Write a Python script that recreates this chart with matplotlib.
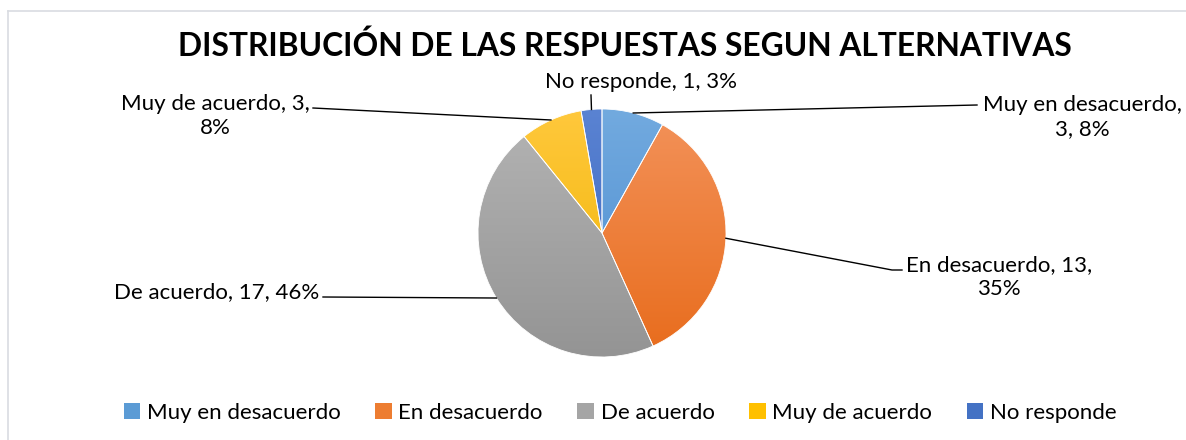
import numpy as np
import matplotlib
matplotlib.use("Agg")
import matplotlib.pyplot as plt
from matplotlib.colors import LinearSegmentedColormap
from matplotlib.patches import Patch

# %%
# Data
categories = ["Muy en desacuerdo", "En desacuerdo", "De acuerdo", "Muy de acuerdo", "No responde"]
counts = [3, 13, 17, 3, 1]
percents = [8, 35, 46, 8, 3]
title = "DISTRIBUCIÓN DE LAS RESPUESTAS SEGUN ALTERNATIVAS"

# colours: base, gradient top, gradient bottom
base_colors = ["#5B9BD5", "#ED7D31", "#A5A5A5", "#FFC000", "#4472C4"]
top_colors = ["#72AADF", "#F3925A", "#B4B4B4", "#FFC83C", "#5A83D2"]
bot_colors = ["#4A8BCF", "#E86C1C", "#949494", "#EFB300", "#3763BF"]

FONT = ["Lato", "DejaVu Sans"]
W, H = 1186, 440

fig = plt.figure(figsize=(W / 100, H / 100), dpi=100)
ax = fig.add_axes([0, 0, 1, 1])

# %%
# Pie with vertical gradient fill
cx, cy, r = 602, H - 233, 124
wedges, _ = ax.pie(counts, colors=base_colors, startangle=90, counterclock=False,
                   center=(cx, cy), radius=r,
                   wedgeprops=dict(edgecolor="white", linewidth=0.6))
grad = np.linspace(0, 1, 256).reshape(-1, 1)
for w, top, bot in zip(wedges, top_colors, bot_colors):
    cmap = LinearSegmentedColormap.from_list("g", [bot, top])
    im = ax.imshow(grad, cmap=cmap, extent=[cx - r, cx + r, cy - r, cy + r],
                   origin="lower", aspect="auto", zorder=1)
    im.set_clip_path(w)
    w.set_facecolor("none")
    w.set_zorder(2)

# %%
# Data labels with leader lines (label box centre, elbow points)
label_texts = [f"{c}, {n}, {p}%" for c, n, p in zip(categories, counts, percents)]
label_texts[0] = f"{categories[0]},\n{counts[0]}, {percents[0]}%"
label_texts[1] = f"{categories[1]}, {counts[1]},\n{percents[1]}%"
label_texts[3] = f"{categories[3]}, {counts[3]},\n{percents[3]}%"

label_pos = [(1082, 117), (999, 277), (217, 292), (215, 116), (641, 82)]
elbows = [[(977, 105)], [(892, 270), (902, 270)], [(323, 297)], [(313, 108)], [(591, 95)]]

for w, txt, (tx, ty), pts in zip(wedges, label_texts, label_pos, elbows):
    mid = np.deg2rad((w.theta1 + w.theta2) / 2)
    ax_ = cx + r * np.cos(mid)
    ay_ = cy + r * np.sin(mid)
    xs = [ax_] + [p[0] for p in pts]
    ys = [ay_] + [H - p[1] for p in pts]
    ax.plot(xs, ys, color="#000000", lw=1.0, zorder=3)
    ax.text(tx, H - ty, txt, ha="center", va="center", fontsize=16,
            family=FONT, color="#000000", linespacing=1.2)

# %%
# Title, legend, frame
ax.text(625, H - 46, title, ha="center", va="center", fontsize=22.9,
        fontweight="bold", family=FONT, color="#000000")

handles = [Patch(facecolor=c, edgecolor="none") for c in base_colors]
leg = ax.legend(handles, categories, loc="center", ncol=5, frameon=False,
                bbox_to_anchor=(620 / W, 1 - 413 / H),
                prop=dict(family=FONT, size=16),
                handlelength=0.75, handleheight=0.75, handletextpad=0.3,
                columnspacing=1.55)

ax.plot([8, W], [H - 11, H - 11], color="#D9DCE1", lw=1.2)
ax.plot([8, 8], [0, H - 11], color="#D9DCE1", lw=1.2)

ax.set_xlim(0, W)
ax.set_ylim(0, H)
ax.set_aspect("auto")
ax.axis("off")

fig.savefig("out.png", dpi=100, facecolor="white")
